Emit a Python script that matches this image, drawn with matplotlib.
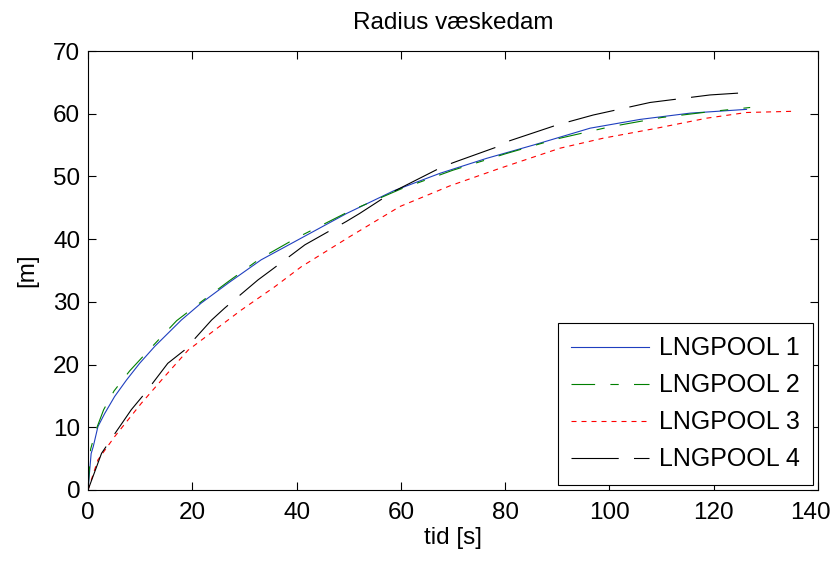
import matplotlib
matplotlib.use('Agg')
import matplotlib.pyplot as plt
import matplotlib.transforms as mtransforms

plt.rcParams['font.family'] = ['Liberation Sans', 'DejaVu Sans']
plt.rcParams['lines.scale_dashes'] = False

# LNGPOOL 1 (blue)
t1 = [0, 0.6, 1.0, 1.9, 3.2, 5.1, 7.35, 9.9, 12.8, 17.9, 21.7, 26.9, 33.2, 40.3, 49.6,
      58.6, 67.5, 76.5, 85.4, 96.3, 105.9, 115.5, 126.3]
r1 = [0, 5.8, 6.9, 10.1, 12.2, 14.9, 17.5, 20.2, 22.9, 27.1, 29.8, 33.0, 36.7, 39.9, 44.1,
      47.7, 50.5, 52.9, 55.0, 57.7, 59.1, 60.1, 60.7]

# LNGPOOL 2 (green)
t2 = [0, 0.5, 1.5, 3, 5, 8, 12, 17, 22, 27, 33, 40, 50, 60, 70, 80, 90, 100, 110, 120, 127]
r2 = [0, 6.5, 9.5, 12.8, 15.8, 19.0, 22.6, 27.0, 30.2, 33.3, 36.9, 40.2, 44.4, 48, 51, 53.6,
      56.0, 57.9, 59.4, 60.4, 61.0]

# LNGPOOL 3 (red)
t3 = [0, 1.9, 5.1, 10.2, 14.7, 19.2, 24.3, 29.4, 35.8, 40.9, 50.2, 59.8, 69.4, 79.0,
      90.5, 98.8, 109.1, 118.7, 126.3, 135.6]
r3 = [0, 4.8, 8.5, 13.8, 18.1, 22.3, 25.5, 28.7, 32.4, 35.6, 40.4, 45.2, 48.5, 51.3,
      54.5, 56.1, 57.7, 59.3, 60.2, 60.4]

# LNGPOOL 4 (black)
t4 = [0, 2.6, 4.5, 8.3, 10.9, 15.3, 18.5, 23.7, 26.2, 32.6, 35.2, 41.6, 49.5, 52.1,
      58.6, 68.1, 70.7, 78.4, 80.9, 89.9, 96.9, 107.8, 119.3, 124.9]
r4 = [0, 5.85, 8.2, 12.8, 15.4, 20.2, 22.3, 27.1, 29.0, 33.5, 35.1, 39.1, 42.8, 44.1,
      47.6, 51.6, 52.4, 54.7, 55.7, 58.2, 59.8, 61.8, 63.0, 63.3]

fig = plt.figure(figsize=(8.35, 5.61), dpi=100)
ax = fig.add_axes([0.1054, 0.1266, 0.8742, 0.7824])

ax.plot(t1, r1, color='#1f3fbf', lw=0.8, label='LNGPOOL 1')
ax.plot(t2, r2, color='#007f00', lw=0.8, dashes=(17, 11, 6, 11), label='LNGPOOL 2')
ax.plot(t3, r3, color='#ff0000', lw=0.8, dashes=(3.6, 3.6), label='LNGPOOL 3')
ax.plot(t4, r4, color='black', lw=0.8, dashes=(34, 11), label='LNGPOOL 4')

ax.set_xlim(0, 140)
ax.set_ylim(0, 70)
ax.set_xticks(range(0, 141, 20))
ax.set_yticks(range(0, 71, 10))
ax.tick_params(direction='in', length=6, width=0.8, labelsize=17.5,
               top=True, right=True)
ax.tick_params(axis='x', pad=9)
ax.tick_params(axis='y', pad=5.5)
for s in ax.spines.values():
    s.set_linewidth(0.8)

# last x label sits a bit inward so it stays in the figure
lab = ax.get_xticklabels()[-1]
lab.set_transform(lab.get_transform() +
                  mtransforms.ScaledTranslation(-8 / 100, 0, fig.dpi_scale_trans))

ax.set_title('Radius væskedam', fontsize=17.5, pad=16)
ax.set_xlabel('tid [s]', fontsize=17.5, labelpad=2)
ax.set_ylabel('[m]', fontsize=17.5, labelpad=11)

leg = ax.legend(loc='lower right', fontsize=18, frameon=True, fancybox=False,
                edgecolor='black', framealpha=1, handlelength=3.1,
                handletextpad=0.4, labelspacing=0.52, borderpad=0.54,
                borderaxespad=0.2)
leg.get_frame().set_linewidth(0.8)

fig.savefig('out.png', dpi=100)
